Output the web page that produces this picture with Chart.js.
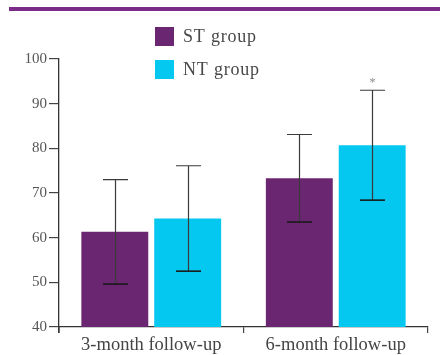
<!DOCTYPE html>
<html>
<head>
<meta charset="utf-8">
<script src="https://cdn.jsdelivr.net/npm/chart.js@4"></script>
<style>
html,body{margin:0;padding:0;background:#fff;}
#wrap{position:relative;width:440px;height:355px;}
</style>
</head>
<body>
<div id="wrap"><canvas id="c" width="440" height="355"></canvas></div>
<script>
const categories = ['3-month follow-up', '6-month follow-up'];
const seriesNames = ['ST group', 'NT group'];
const stMean = [61.3, 73.3];
const stSD = [11.7, 9.8];
const ntMean = [64.3, 80.7];
const ntSD = [11.8, 12.3];
const significant = [[false, false], [false, true]];
const yTicks = [40, 50, 60, 70, 80, 90, 100];

const purple = '#6b2672';
const cyan = '#04c8ef';
const serif = '"Liberation Serif", "DejaVu Serif", serif';

const errorBars = {
  id: 'errorBars',
  afterDatasetsDraw(chart) {
    const ctx = chart.ctx;
    const y = chart.scales.y;
    const sds = [stSD, ntSD];
    ctx.save();
    chart.data.datasets.forEach((ds, di) => {
      const meta = chart.getDatasetMeta(di);
      meta.data.forEach((bar, i) => {
        const m = ds.data[i], sd = sds[di][i];
        const top = y.getPixelForValue(m + sd);
        const bot = y.getPixelForValue(m - sd);
        const x = Math.round(bar.x) + 0.5;
        ctx.strokeStyle = '#3a3a3a';
        ctx.lineWidth = 1.2;
        ctx.beginPath();
        ctx.moveTo(x, top); ctx.lineTo(x, bot);
        ctx.moveTo(x - 12.5, top); ctx.lineTo(x + 12.5, top);
        ctx.stroke();
        ctx.strokeStyle = '#1a1a1a';
        ctx.lineWidth = 1.6;
        ctx.beginPath();
        ctx.moveTo(x - 12.5, bot); ctx.lineTo(x + 12.5, bot);
        ctx.stroke();
        if (significant[di][i]) {
          ctx.fillStyle = '#888';
          ctx.font = '12px ' + serif;
          ctx.textAlign = 'center';
          ctx.textBaseline = 'bottom';
          ctx.fillText('*', x, top - 1);
        }
      });
    });
    ctx.restore();
  }
};

const decor = {
  id: 'decor',
  afterDraw(chart) {
    const ctx = chart.ctx;
    const area = chart.chartArea;
    ctx.save();
    ctx.fillStyle = '#7a2b87';
    ctx.fillRect(9, 7, 431, 4);
    ctx.strokeStyle = '#333';
    ctx.lineWidth = 1.3;
    ctx.beginPath();
    ctx.moveTo(area.left, area.bottom);
    ctx.lineTo(area.left, area.bottom + 6);
    ctx.stroke();
    chart.data.datasets.forEach((ds, di) => {
      const yy = 27 + di * 33;
      ctx.fillStyle = ds.backgroundColor;
      ctx.fillRect(155, yy, 19, 19);
      ctx.fillStyle = '#484848';
      ctx.font = '18px ' + serif;
      ctx.letterSpacing = '0.8px';
      ctx.textAlign = 'left';
      ctx.textBaseline = 'middle';
      ctx.fillText(ds.label, 183, yy + 10);
    });
    ctx.restore();
  }
};

new Chart(document.getElementById('c'), {
  type: 'bar',
  data: {
    labels: categories,
    datasets: [
      { label: seriesNames[0], data: stMean, backgroundColor: purple, borderWidth: 0 },
      { label: seriesNames[1], data: ntMean, backgroundColor: cyan, borderWidth: 0 }
    ]
  },
  options: {
    responsive: false,
    animation: false,
    devicePixelRatio: 1,
    layout: { padding: { top: 59, right: 12, bottom: 0, left: 0 } },
    datasets: { bar: { categoryPercentage: 0.79, barPercentage: 0.918 } },
    plugins: { legend: { display: false }, tooltip: { enabled: false } },
    scales: {
      x: {
        offset: true,
        grid: { offset: true, drawOnChartArea: false, drawTicks: true, tickLength: 6, color: '#444', lineWidth: 1.2 },
        border: { display: true, color: '#333', width: 1.3 },
        ticks: { color: '#444', font: { family: serif, size: 18.5 }, padding: 1, maxRotation: 0 },
        afterFit(s) { s.height = 28; }
      },
      y: {
        min: 40, max: 100,
        afterBuildTicks(s) { s.ticks = yTicks.map(v => ({ value: v })); },
        grid: { drawOnChartArea: false, drawTicks: true, tickLength: 10, color: '#444', lineWidth: 1.2 },
        border: { display: true, color: '#333', width: 1.3 },
        ticks: { color: '#555', font: { family: serif, size: 15 }, padding: 2 },
        afterFit(s) { s.width = 59; }
      }
    }
  },
  plugins: [errorBars, decor]
});
</script>
</body>
</html>
